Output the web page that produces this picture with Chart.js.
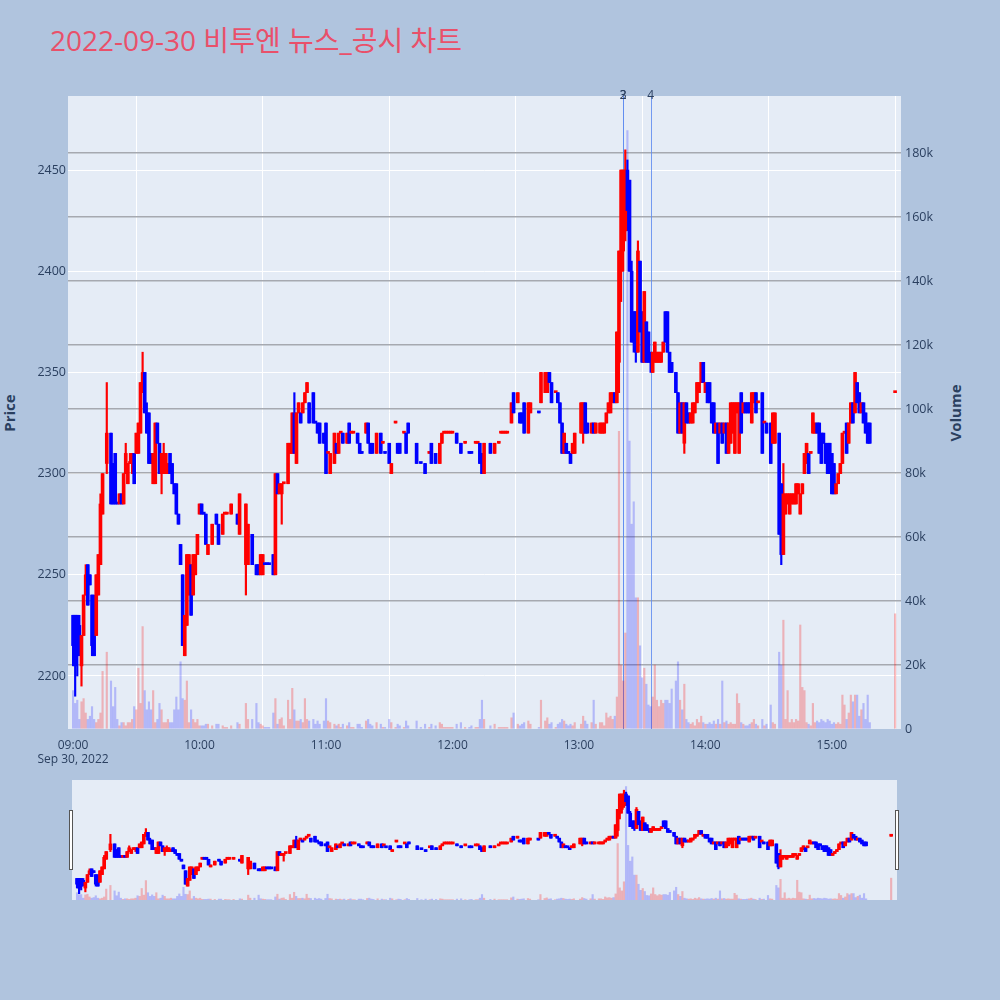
<!DOCTYPE html>
<html>
<head>
<meta charset="utf-8">
<script src="https://cdn.jsdelivr.net/npm/chart.js@4/dist/chart.umd.min.js"></script>
<style>
  body { margin: 0; background: #b0c4de; width: 1000px; height: 1000px; overflow: hidden;
         font-family: "Open Sans", "Noto Sans CJK KR", sans-serif; }
  #title { position: absolute; left: 50px; top: 26px; font-size: 28px; line-height: 28px;
           color: #e9506a; white-space: nowrap; }
  .axis-title { position: absolute; width: 120px; text-align: center; line-height: 20px;
                font-size: 15px; font-weight: bold; color: #2a3f5f; transform: rotate(-90deg); }
  #main { position: absolute; left: 0; top: 0; }
  #mini { position: absolute; left: 72px; top: 780px; }
  .handle { position: absolute; top: 810px; width: 2px; height: 58px; background: #fff;
            border: 1px solid #555; }
</style>
</head>
<body>
<div id="title">2022-09-30 비투엔 뉴스_공시 차트</div>
<div class="axis-title" style="left:-51px; top:403px;">Price</div>
<div class="axis-title" style="left:895px; top:403px;">Volume</div>
<canvas id="main" width="1000" height="770"></canvas>
<canvas id="mini" width="825" height="120"></canvas>
<div class="handle" style="left:69px;"></div>
<div class="handle" style="left:895px;"></div>
<script>
// ===== data: one candle per traded minute (minutes after 09:00) =====
const minutes = [
  0,1,2,3,4,5,6,7,8,9, 10,11,12,13,14,16,18,19,20,21, 22,23,24,25,26,27,28,29,30,31,
  32,33,34,35,36,37,38,39,40,41, 42,43,44,45,46,47,48,49,50,51, 52,53,54,55,56,57,58,59,60,61,
  62,63,64,66,68,69,71,72,73,75, 78,79,82,83,85,87,88,89,90,91, 92,93,95,96,97,98,99,100,102,103,
  104,105,106,107,108,109,110,111,112,114, 115,116,117,119,120,121,122,124,125,126,
  127,128,130,131,132,133,135,136,137,139, 140,141,142,144,146,147,148,150,151,153,
  154,155,157,158,159,163,165,167,169,170, 172,174,175,176,177,178,179,180,182,184,
  186,188,189,191,192,193,194,195,198,200, 202,203,204,205,206,208,209,211,212,213,
  214,216,217,221,222,224,225,226,227,229, 230,231,232,233,234,235,236,237,238,241,
  242,243,244,246,247,248,250,251,252,253, 254,255,256,257,258,259,260,261,262,263,
  264,265,266,267,268,269,270,271,272,273, 274,275,276,277,278,279,280,281,282,283,
  284,286,287,288,289,290,291,292,293,294, 295,296,297,298,299,300,301,302,303,304,
  305,306,307,308,309,310,311,312,313,314, 315,316,317,318,319,320,321,322,323,324,
  325,327,328,329,331,332,333,335,336,337, 338,339,340,341,342,343,344,345,346,347,
  348,349,350,351,352,353,354,355,356,357, 358,359,360,361,362,363,364,365,366,367,
  368,369,370,371,372,373,374,375,376,377, 378,390
];
const opens = [
  2230,2230,2230,2225,2205,2220,2240,2255,2250,2240, 2235,2220,2240,2255,2280,2305,2320,2305,2310,2285, 2285,2290,2285,2300,2295,2305,2305,2310,2310,2310,
  2320,2340,2350,2330,2330,2310,2295,2295,2325,2315, 2300,2300,2300,2300,2310,2305,2295,2295,2280,2265, 2250,2210,2225,2240,2255,2240,2250,2260,2280,2285,
  2280,2280,2260,2265,2280,2275,2270,2280,2280,2280, 2280,2270,2255,2255,2270,2255,2255,2250,2250,2255, 2255,2255,2260,2250,2300,2290,2290,2295,2295,2310,
  2310,2330,2305,2330,2330,2330,2335,2340,2335,2340, 2325,2325,2325,2320,2325,2310,2300,2305,2315,2310,
  2320,2320,2315,2325,2320,2320,2320,2315,2310,2320, 2325,2315,2315,2310,2320,2315,2310,2315,2300,2325,
  2315,2315,2320,2320,2325,2315,2305,2305,2310,2315, 2310,2305,2315,2320,2320,2320,2320,2320,2320,2315,
  2315,2310,2310,2315,2315,2315,2310,2300,2315,2310, 2315,2320,2320,2320,2320,2325,2340,2335,2330,2330,
  2335,2320,2330,2330,2335,2340,2340,2350,2345,2340, 2340,2335,2325,2310,2315,2310,2310,2310,2310,2320,
  2320,2335,2325,2320,2325,2320,2320,2320,2320,2325, 2330,2330,2335,2340,2335,2355,2400,2410,2420,2450,
  2445,2400,2380,2380,2360,2405,2380,2355,2375,2370, 2360,2350,2355,2355,2355,2355,2360,2380,2380,2360,
  2355,2350,2340,2320,2335,2315,2335,2330,2325,2325, 2330,2335,2340,2345,2355,2340,2345,2345,2335,2335,
  2320,2325,2320,2325,2320,2325,2310,2315,2320,2310, 2330,2310,2340,2330,2335,2335,2335,2325,2335,2340,
  2335,2340,2325,2325,2325,2315,2315,2320,2295,2260, 2280,2285,2280,2285,2285,2285,2290,2280,2290,2300,
  2305,2310,2310,2320,2320,2325,2325,2320,2320,2315, 2315,2315,2310,2305,2290,2295,2300,2305,2320,2325,
  2315,2325,2335,2330,2345,2340,2330,2335,2330,2325, 2325,2340
];
const highs = [
  2230,2230,2230,2230,2220,2240,2255,2255,2250,2240, 2240,2250,2260,2290,2300,2345,2320,2305,2310,2285, 2290,2290,2300,2315,2305,2310,2310,2310,2320,2325,
  2345,2360,2350,2335,2330,2310,2310,2325,2325,2315, 2310,2315,2310,2305,2310,2305,2295,2295,2280,2265, 2250,2230,2260,2260,2255,2260,2260,2270,2285,2285,
  2280,2280,2265,2275,2280,2275,2280,2280,2280,2285, 2280,2290,2285,2275,2270,2255,2255,2260,2260,2255, 2255,2255,2260,2300,2300,2295,2295,2295,2315,2315,
  2330,2340,2330,2335,2330,2335,2340,2345,2335,2340, 2325,2325,2325,2320,2325,2310,2310,2320,2315,2320,
  2320,2320,2320,2325,2320,2320,2320,2315,2310,2325, 2325,2315,2315,2320,2320,2315,2310,2315,2305,2325,
  2315,2315,2320,2320,2325,2315,2305,2305,2310,2315, 2310,2315,2320,2320,2320,2320,2320,2320,2320,2315,
  2315,2310,2310,2315,2315,2315,2310,2315,2315,2315, 2315,2320,2320,2320,2320,2335,2340,2340,2330,2330,
  2335,2335,2335,2330,2350,2350,2350,2350,2345,2340, 2340,2335,2325,2320,2315,2310,2310,2315,2320,2335,
  2335,2335,2325,2325,2325,2325,2325,2325,2325,2330, 2335,2340,2340,2340,2370,2410,2450,2450,2460,2455,
  2445,2405,2380,2380,2415,2405,2380,2390,2375,2370, 2360,2360,2365,2360,2360,2360,2365,2380,2380,2360,
  2355,2350,2340,2335,2335,2335,2335,2330,2330,2335, 2335,2345,2345,2355,2355,2345,2345,2345,2335,2335,
  2325,2325,2325,2325,2325,2325,2325,2335,2335,2335, 2335,2335,2340,2335,2335,2335,2335,2340,2340,2340,
  2335,2340,2325,2325,2325,2330,2330,2320,2295,2305, 2290,2290,2290,2290,2290,2295,2295,2290,2295,2310,
  2315,2310,2310,2330,2325,2325,2325,2320,2320,2315, 2315,2315,2310,2305,2295,2300,2305,2320,2320,2325,
  2325,2335,2335,2350,2345,2340,2335,2335,2330,2325, 2325,2340
];
const lows = [
  2205,2190,2200,2210,2195,2220,2240,2235,2245,2210, 2210,2220,2240,2255,2280,2300,2285,2285,2285,2285, 2285,2285,2285,2300,2295,2305,2300,2295,2310,2310,
  2320,2340,2330,2320,2305,2305,2295,2295,2315,2300, 2290,2300,2300,2300,2300,2295,2290,2280,2275,2255, 2215,2210,2225,2240,2230,2240,2250,2260,2280,2280,
  2280,2265,2260,2265,2275,2265,2270,2280,2280,2280, 2275,2270,2240,2255,2255,2250,2250,2250,2250,2255, 2255,2255,2250,2250,2290,2290,2275,2295,2295,2310,
  2310,2310,2305,2330,2325,2330,2335,2340,2325,2325, 2325,2320,2315,2315,2300,2310,2300,2305,2310,2310,
  2320,2315,2315,2315,2320,2320,2315,2310,2310,2320, 2315,2310,2310,2310,2310,2315,2310,2305,2300,2325,
  2310,2310,2320,2310,2320,2305,2305,2300,2310,2305, 2305,2305,2315,2320,2320,2320,2320,2320,2315,2310,
  2315,2310,2310,2315,2315,2305,2300,2300,2310,2310, 2315,2320,2320,2320,2320,2325,2330,2335,2325,2325,
  2320,2320,2330,2330,2335,2340,2340,2345,2335,2340, 2335,2325,2310,2310,2310,2310,2305,2310,2310,2320,
  2315,2320,2320,2320,2320,2320,2320,2320,2320,2325, 2330,2330,2335,2335,2335,2340,2385,2400,2415,2420,
  2400,2365,2360,2355,2360,2370,2355,2355,2355,2355, 2350,2350,2355,2355,2355,2355,2360,2365,2360,2350,
  2350,2340,2320,2320,2320,2310,2325,2325,2325,2325, 2330,2335,2340,2345,2345,2340,2335,2335,2325,2320,
  2320,2305,2320,2315,2320,2310,2310,2315,2320,2310, 2330,2310,2320,2330,2330,2330,2330,2325,2335,2330,
  2335,2310,2325,2320,2305,2315,2315,2270,2255,2260, 2280,2285,2280,2285,2285,2285,2290,2280,2290,2300,
  2305,2300,2310,2320,2320,2320,2310,2305,2315,2305, 2300,2300,2290,2290,2290,2295,2300,2305,2320,2310,
  2315,2325,2325,2330,2335,2330,2330,2325,2320,2315, 2315,2340
];
const closes = [
  2215,2205,2210,2215,2220,2240,2250,2235,2245,2215, 2210,2250,2260,2285,2300,2320,2285,2285,2285,2285, 2290,2285,2300,2310,2305,2305,2310,2295,2320,2325,
  2345,2350,2330,2320,2305,2305,2310,2325,2315,2300, 2310,2310,2310,2305,2300,2295,2290,2280,2275,2255, 2215,2230,2260,2260,2230,2260,2260,2270,2285,2280,
  2280,2265,2265,2275,2275,2265,2280,2280,2280,2285, 2275,2290,2285,2275,2255,2250,2250,2260,2260,2255, 2255,2255,2250,2300,2290,2295,2295,2295,2315,2315,
  2330,2310,2330,2335,2325,2335,2340,2345,2325,2325, 2325,2320,2315,2315,2300,2310,2310,2320,2310,2320,
  2320,2315,2320,2315,2320,2320,2315,2310,2310,2325, 2315,2310,2310,2320,2310,2315,2310,2305,2305,2325,
  2310,2310,2320,2310,2320,2305,2305,2300,2310,2305, 2305,2315,2320,2320,2320,2320,2320,2320,2315,2310,
  2315,2310,2310,2315,2315,2305,2300,2315,2310,2315, 2315,2320,2320,2320,2320,2335,2330,2340,2325,2325,
  2320,2335,2335,2330,2350,2350,2350,2345,2335,2340, 2335,2325,2310,2320,2310,2310,2305,2315,2320,2335,
  2335,2320,2320,2325,2320,2325,2325,2325,2325,2330, 2335,2340,2340,2335,2370,2410,2450,2450,2450,2430,
  2400,2365,2365,2360,2410,2370,2355,2390,2355,2355, 2355,2360,2365,2360,2360,2360,2365,2365,2360,2350,
  2350,2340,2320,2335,2320,2335,2325,2325,2330,2335, 2335,2345,2345,2355,2345,2345,2335,2335,2325,2320,
  2325,2305,2325,2315,2325,2310,2325,2335,2335,2335, 2335,2335,2320,2335,2330,2330,2330,2340,2340,2330,
  2335,2310,2325,2320,2305,2330,2330,2270,2260,2290, 2290,2290,2290,2290,2290,2295,2295,2290,2295,2310,
  2315,2300,2310,2330,2325,2320,2310,2305,2315,2305, 2300,2300,2290,2290,2295,2300,2305,2320,2320,2310,
  2325,2335,2325,2350,2335,2330,2335,2325,2320,2315, 2315,2340
];
const volumes = [
  12000,8000,9000,3000,8500,9500,5000,3000,4000,7000, 3000,2000,3000,5000,18000,24000,15000,7000,13000,3000, 1000,2000,2000,1000,2000,2000,3000,7000,6000,19000,
  8000,32000,12000,6000,8500,6000,12000,2000,3000,8000, 6000,2000,2000,3000,2000,2000,6000,10000,6000,21000, 9500,9000,15000,2000,6000,3000,2000,3000,1000,1000,
  1000,1500,1500,1000,1500,1500,1000,500,500,1000, 2000,1500,8000,3000,3000,8000,2000,1500,1000,500, 500,500,5000,9500,1500,3000,3500,1000,9000,3000,
  12700,6000,2500,2500,3000,2000,9500,3000,2500,3000, 1500,2500,1500,2500,9500,2500,2000,1500,1000,1500,
  500,1500,1000,2000,500,500,1500,1500,500,2500, 3000,1500,1000,2000,1500,500,500,3000,2000,500,
  1500,1000,500,2500,1000,2500,500,1500,500,1500, 1000,2000,1500,500,500,500,500,500,1500,2000,
  500,500,1000,500,500,3000,9000,3000,1000,1500, 500,500,500,500,500,3500,5000,1500,1000,1500,
  2000,2500,1500,500,9000,2500,3500,1500,2000,500, 1500,2000,3000,2500,1500,1000,1500,1000,2000,1500,
  4000,2500,1500,2000,9000,1500,2000,2000,1000,5000, 3500,4000,3000,4000,10000,93000,20000,15000,30000,187000,
  90000,64000,71000,41000,41000,26000,16000,19000,14000,7500, 7000,10000,20000,9000,7000,9000,8000,9000,9000,8000,
  12500,15000,21000,9000,6000,14000,3000,2000,1500,2000, 1000,3000,2000,4000,2000,1500,1500,2000,1500,2500,
  1500,3000,1500,15000,2000,2500,1500,2000,1500,1500, 11000,8000,2000,1500,1000,1000,1500,2000,3000,1500,
  1000,3000,1000,1500,7500,2000,1500,24000,20000,34000, 3000,12000,2000,3000,2000,3000,2500,32500,13000,12000,
  2000,1500,1000,8000,2000,2500,2000,3000,2500,2000, 3000,2500,1500,2000,1500,2000,1500,10600,7500,3000,
  5000,10600,8500,10600,10600,4000,6000,8000,3000,10600, 2000,36000
];

const hourTicks = [0, 60, 120, 180, 240, 300, 360];
const hourLabels = ["09:00", "10:00", "11:00", "12:00", "13:00", "14:00", "15:00"];
const dateLabel = "Sep 30, 2022";
const priceTicks = [2200, 2250, 2300, 2350, 2400, 2450];
const volumeTicks = [0, 20000, 40000, 60000, 80000, 100000, 120000, 140000, 160000, 180000];
const volumeTickLabels = ["0", "20k", "40k", "60k", "80k", "100k", "120k", "140k", "160k", "180k"];
const markerMinutes = [261, 261, 274];
const markerLabels = ["2", "3", "4"];

// ===== colours =====
const UP = "#ff0000";
const DOWN = "#0000ff";
const UP_VOL = "rgba(255,0,0,0.25)";
const DOWN_VOL = "rgba(0,0,255,0.22)";

if (![opens, highs, lows, closes, volumes].every(a => a.length === minutes.length)) {
  document.body.insertAdjacentHTML("beforeend", "<pre>length mismatch</pre>");
}

// up/down per candle (flat candles keep the direction vs previous close)
const isUp = [];
minutes.forEach((m, i) => {
  let up;
  if (closes[i] > opens[i]) up = true;
  else if (closes[i] < opens[i]) up = false;
  else if (i > 0 && closes[i] !== closes[i - 1]) up = closes[i] > closes[i - 1];
  else up = i > 0 ? isUp[i - 1] : true;
  isUp.push(up);
});

const X_MIN = -2.4, X_MAX = 392.8;
const P_MIN = 2173.8, P_MAX = 2486.6;
const V_MAX = 197800;

function buildDatasets() {
  return [
    {
      label: "body", yAxisID: "y", order: 0, grouped: false,
      data: minutes.map((m, i) => ({ x: m, y: [opens[i], closes[i]] })),
      backgroundColor: isUp.map(u => u ? UP : DOWN),
      barThickness: 3, minBarLength: 2, borderWidth: 0
    },
    {
      label: "wick", yAxisID: "y", order: 1, grouped: false,
      data: minutes.map((m, i) => ({ x: m, y: [lows[i], highs[i]] })),
      backgroundColor: isUp.map(u => u ? UP : DOWN),
      barThickness: 1.5, borderWidth: 0
    },
    {
      label: "volume", yAxisID: "yv", order: 2, grouped: false,
      data: minutes.map((m, i) => ({ x: m, y: volumes[i] })),
      backgroundColor: isUp.map(u => u ? UP_VOL : DOWN_VOL),
      barThickness: 1.5, borderWidth: 0
    }
  ];
}

const plotBg = {
  id: "plotBg",
  beforeDraw(chart) {
    const { ctx, chartArea: a } = chart;
    ctx.save();
    ctx.fillStyle = "#e5ecf6";
    ctx.fillRect(a.left, a.top, a.right - a.left, a.bottom - a.top);
    ctx.restore();
  }
};

const markers = {
  id: "markers",
  beforeDatasetsDraw(chart) {
    const { ctx, chartArea: a, scales } = chart;
    ctx.save();
    ctx.strokeStyle = "rgba(95,140,240,0.85)";
    ctx.lineWidth = 1;
    markerMinutes.forEach(m => {
      const x = Math.round(scales.x.getPixelForValue(m)) + 0.5;
      ctx.beginPath();
      ctx.moveTo(x, a.top);
      ctx.lineTo(x, a.bottom);
      ctx.stroke();
    });
    ctx.restore();
  },
  afterDraw(chart) {
    const { ctx, chartArea: a, scales } = chart;
    ctx.save();
    ctx.fillStyle = "#2a3f5f";
    ctx.font = "12px 'Open Sans'";
    ctx.textAlign = "center";
    ctx.textBaseline = "middle";
    markerMinutes.forEach((m, i) => {
      ctx.fillText(markerLabels[i], scales.x.getPixelForValue(m), a.top);
    });
    ctx.restore();
  }
};

Chart.defaults.font.family = "'Open Sans', sans-serif";
Chart.defaults.font.size = 12;
Chart.defaults.color = "#2a3f5f";

new Chart(document.getElementById("main"), {
  type: "bar",
  data: { datasets: buildDatasets() },
  options: {
    responsive: false,
    animation: false,
    layout: { padding: { top: 96, left: 0, right: 0, bottom: 0 } },
    plugins: { legend: { display: false }, tooltip: { enabled: false } },
    scales: {
      x: {
        type: "linear", min: X_MIN, max: X_MAX, offset: false,
        afterBuildTicks: s => { s.ticks = hourTicks.map(v => ({ value: v })); },
        afterFit: s => { s.height = 41; },
        grid: { color: "#ffffff", lineWidth: 1, drawTicks: false },
        border: { display: false },
        ticks: {
          padding: 9, maxRotation: 0, autoSkip: false,
          callback: v => {
            const i = hourTicks.indexOf(v);
            return i === 0 ? [hourLabels[0], dateLabel] : hourLabels[i];
          }
        }
      },
      y: {
        position: "left", min: P_MIN, max: P_MAX,
        afterBuildTicks: s => { s.ticks = priceTicks.map(v => ({ value: v })); },
        afterFit: s => { s.width = 68; },
        grid: { color: "#ffffff", lineWidth: 1, drawTicks: false },
        border: { display: false },
        ticks: { padding: 2, font: { size: 12.5 }, callback: v => String(v) }
      },
      yv: {
        position: "right", min: 0, max: V_MAX,
        afterBuildTicks: s => { s.ticks = volumeTicks.map(v => ({ value: v })); },
        afterFit: s => { s.width = 99; },
        grid: {
          color: c => (c.tick && c.tick.value === 0) ? "rgba(0,0,0,0)" : "#a6a9b0",
          lineWidth: 1.5, drawTicks: false
        },
        border: { display: false },
        ticks: { padding: 4, font: { size: 12.5 }, callback: v => volumeTickLabels[volumeTicks.indexOf(v)] }
      }
    }
  },
  plugins: [plotBg, markers]
});

// ===== range slider preview =====
new Chart(document.getElementById("mini"), {
  type: "bar",
  data: { datasets: buildDatasets() },
  options: {
    responsive: false,
    animation: false,
    layout: { padding: 0 },
    plugins: { legend: { display: false }, tooltip: { enabled: false } },
    scales: {
      x: { type: "linear", min: X_MIN, max: X_MAX, offset: false, display: false },
      y: { min: P_MIN, max: P_MAX, display: false },
      yv: { position: "right", min: 0, max: V_MAX, display: false }
    }
  },
  plugins: [plotBg]
});
</script>
</body>
</html>
